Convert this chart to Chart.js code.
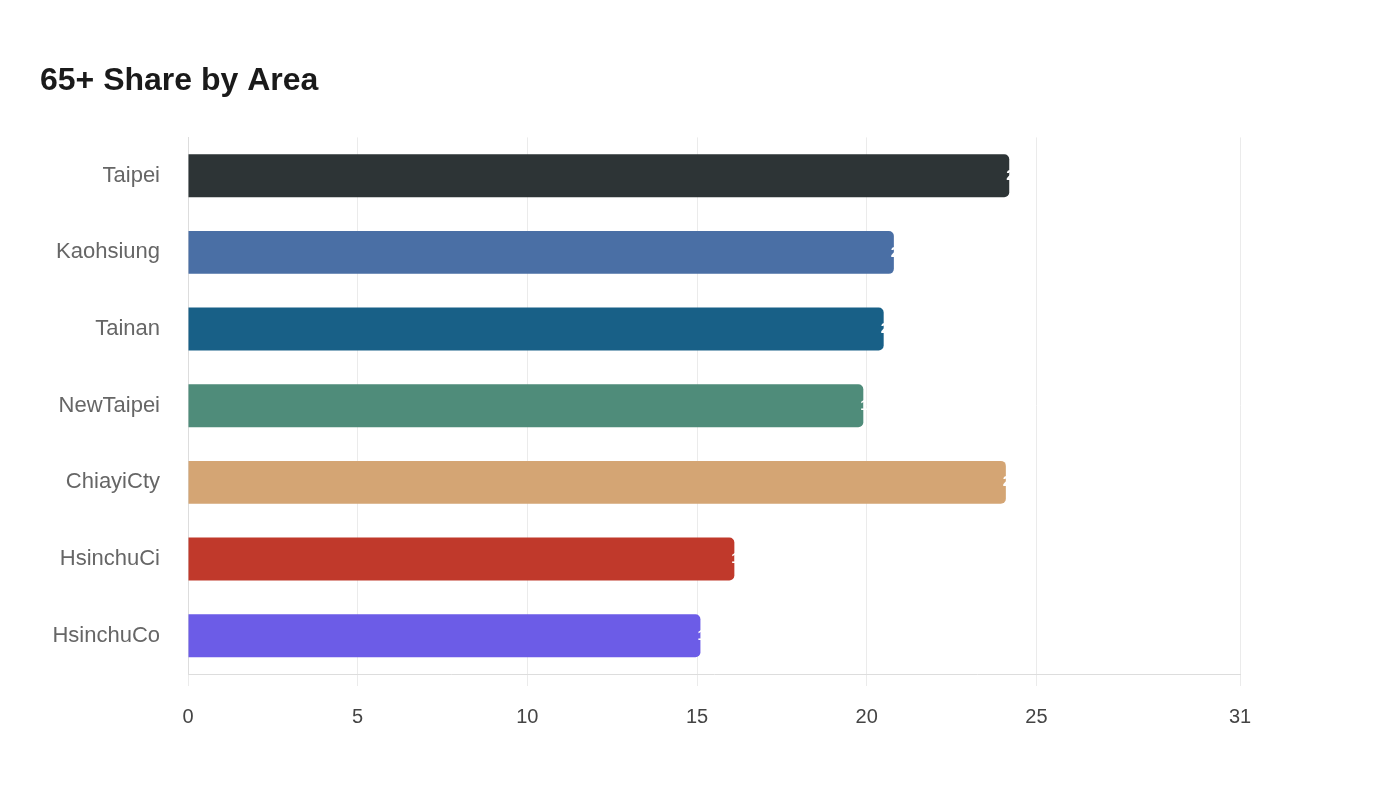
<!DOCTYPE html>
<html>
<head>
<meta charset="utf-8">
<script src="https://cdn.jsdelivr.net/npm/chart.js@4/dist/chart.umd.min.js"></script>
<style>
html,body{margin:0;padding:0;background:#fff;}
#wrap{width:1400px;height:800px;position:relative;}
</style>
</head>
<body>
<div id="wrap"><canvas id="c" width="1400" height="800"></canvas></div>
<script>
const categories = ["Taipei","Kaohsiung","Tainan","NewTaipei","ChiayiCty","HsinchuCi","HsinchuCo"];
const values = [24.2, 20.8, 20.5, 19.9, 24.1, 16.1, 15.1];
const barColors = ["#2d3436","#4a6fa5","#186087","#4f8c7a","#d4a574","#c0392b","#6c5ce7"];
const xTicks = [0, 5, 10, 15, 20, 25, 31];
const xMax = 31;
const titleText = "65+ Share by Area";

const endLabels = {
  id: 'endLabels',
  afterDatasetsDraw(chart) {
    const ctx = chart.ctx;
    const meta = chart.getDatasetMeta(0);
    ctx.save();
    ctx.font = 'bold 15px "Liberation Sans", Arial, sans-serif';
    ctx.fillStyle = '#ffffff';
    ctx.textAlign = 'left';
    ctx.textBaseline = 'middle';
    meta.data.forEach((bar, i) => {
      ctx.fillText(values[i].toFixed(1), bar.x - 3, bar.y);
    });
    ctx.restore();
  }
};

new Chart(document.getElementById('c'), {
  type: 'bar',
  data: {
    labels: categories,
    datasets: [{
      data: values,
      backgroundColor: barColors,
      borderRadius: 5,
      borderSkipped: 'start',
      categoryPercentage: 0.8,
      barPercentage: 0.7
    }]
  },
  options: {
    indexAxis: 'y',
    responsive: false,
    animation: false,
    layout: { padding: { top: 62, left: 40, right: 160, bottom: 52 } },
    plugins: {
      legend: { display: false },
      tooltip: { enabled: false },
      title: {
        display: true,
        text: titleText,
        align: 'start',
        color: '#1a1a1a',
        font: { family: '"Liberation Sans", Arial, sans-serif', size: 32, weight: 'bold' },
        padding: { top: 0, bottom: 37 }
      }
    },
    scales: {
      x: {
        min: 0,
        max: xMax,
        afterBuildTicks(scale) { scale.ticks = xTicks.map(v => ({ value: v })); },
        ticks: {
          color: '#444444',
          font: { family: '"Liberation Sans", Arial, sans-serif', size: 20 },
          padding: 19
        },
        grid: { color: '#ebebeb', tickLength: 12 },
        border: { color: '#dddddd' }
      },
      y: {
        ticks: {
          color: '#666666',
          font: { family: '"Liberation Sans", Arial, sans-serif', size: 22 },
          padding: 20
        },
        grid: { display: false },
        border: { color: '#dddddd' },
        afterFit(scale) { scale.width = 148; }
      }
    }
  },
  plugins: [endLabels]
});
</script>
</body>
</html>
